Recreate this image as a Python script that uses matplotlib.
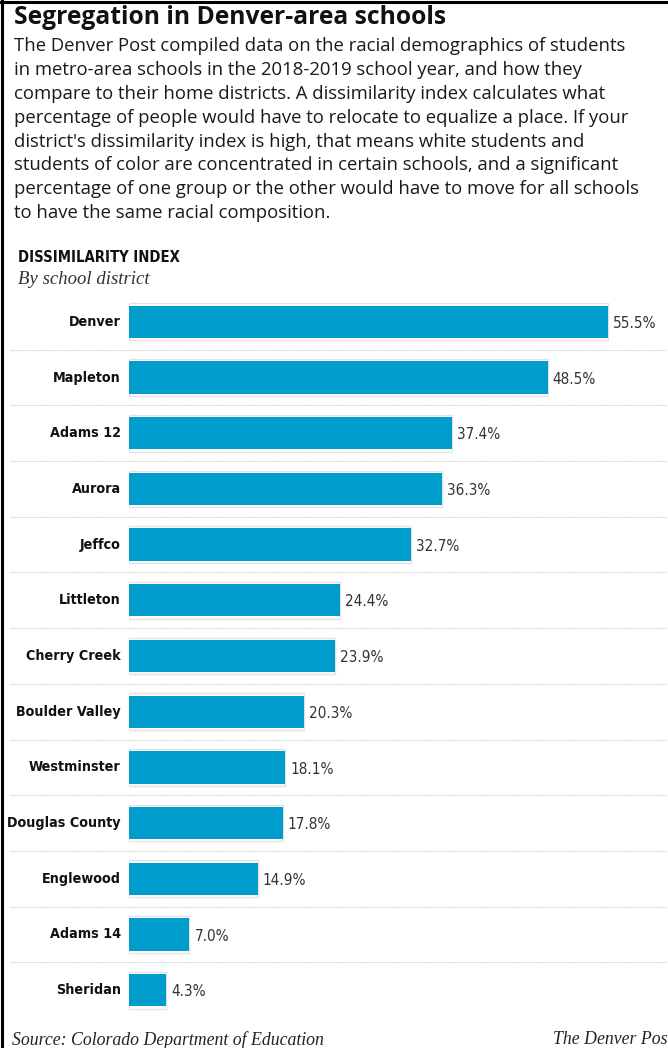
import matplotlib
matplotlib.use("Agg")
import matplotlib.pyplot as plt
from matplotlib.lines import Line2D

districts = ["Denver", "Mapleton", "Adams 12", "Aurora", "Jeffco", "Littleton",
             "Cherry Creek", "Boulder Valley", "Westminster", "Douglas County",
             "Englewood", "Adams 14", "Sheridan"]
index_pct = [55.5, 48.5, 37.4, 36.3, 32.7, 24.4, 23.9, 20.3, 18.1, 17.8, 14.9, 7.0, 4.3]

title = "Segregation in Denver-area schools"
intro = ("The Denver Post compiled data on the racial demographics of students\n"
         "in metro-area schools in the 2018-2019 school year, and how they\n"
         "compare to their home districts. A dissimilarity index calculates what\n"
         "percentage of people would have to relocate to equalize a place. If your\n"
         "district's dissimilarity index is high, that means white students and\n"
         "students of color are concentrated in certain schools, and a significant\n"
         "percentage of one group or the other would have to move for all schools\n"
         "to have the same racial composition.")

W, H = 668, 1048
BLUE = "#009ccb"
COND = dict(family="DejaVu Sans", stretch="condensed")
fig = plt.figure(figsize=(W / 100, H / 100), dpi=100)

def fx(px):
    return px / W

def fy(py):
    return 1 - py / H

# bar area: x=0 sits at px 129, rows 55.67 px apart
x0_px, px_per_unit = 129, 8.63
top_px, bot_px = 294, 1018
ax = fig.add_axes([fx(x0_px), fy(bot_px), fx(W - x0_px), (bot_px - top_px) / H])
ax.set_xlim(0, (W - x0_px) / px_per_unit)
ax.set_ylim(len(districts) - 0.5, -0.5)
ax.axis("off")

ypos = list(range(len(districts)))
ax.barh(ypos, index_pct, height=0.66, color="white", edgecolor="#e2e2e2", linewidth=1.0)
ax.barh(ypos, index_pct, height=0.58, color=BLUE, edgecolor="none")

for i, (name, v) in enumerate(zip(districts, index_pct)):
    ax.text(-0.95, i, name, ha="right", va="center", fontsize=10.3, fontweight="bold",
            color="#111111", **COND)
    ax.text(v + 0.6, i + 0.03, f"{v:.1f}%", ha="left", va="center", fontsize=11,
            color="#333333", **COND)

# dotted row separators running under the labels too
for i in range(len(districts) - 1):
    ax.axhline(i + 0.5, xmin=-(x0_px - 10) / (W - x0_px), xmax=1, color="#c4c4c4",
               linewidth=0.8, linestyle=(0, (1, 1.2)), clip_on=False)

fig.text(fx(14), fy(18), title, ha="left", va="center", fontsize=17.7, fontweight="bold",
         family="Open Sans", color="#111111")
fig.text(fx(14), fy(37), intro, ha="left", va="top", fontsize=13.3, family="Open Sans",
         color="#1a1a1a", linespacing=1.42)

fig.text(fx(18), fy(257), "DISSIMILARITY INDEX", ha="left", va="center", fontsize=10.6,
         fontweight="bold", color="#111111", **COND)
fig.text(fx(18), fy(280), "By school district", ha="left", va="center", fontsize=13.5,
         style="italic", family="Liberation Serif", color="#333333")

fig.text(fx(12), fy(1040), "Source: Colorado Department of Education", ha="left",
         va="center", fontsize=12.8, style="italic", family="Liberation Serif", color="#222222")
fig.text(fx(553), fy(1040), "The Denver Post", ha="left", va="center", fontsize=12.8,
         style="italic", family="Liberation Serif", color="#222222")

# frame on the top and left edges
fig.add_artist(Line2D([0, 1], [fy(1.5), fy(1.5)], color="black", linewidth=2.2))
fig.add_artist(Line2D([fx(1.5), fx(1.5)], [0, 1], color="black", linewidth=2.2))

fig.savefig("out.png", dpi=100)
